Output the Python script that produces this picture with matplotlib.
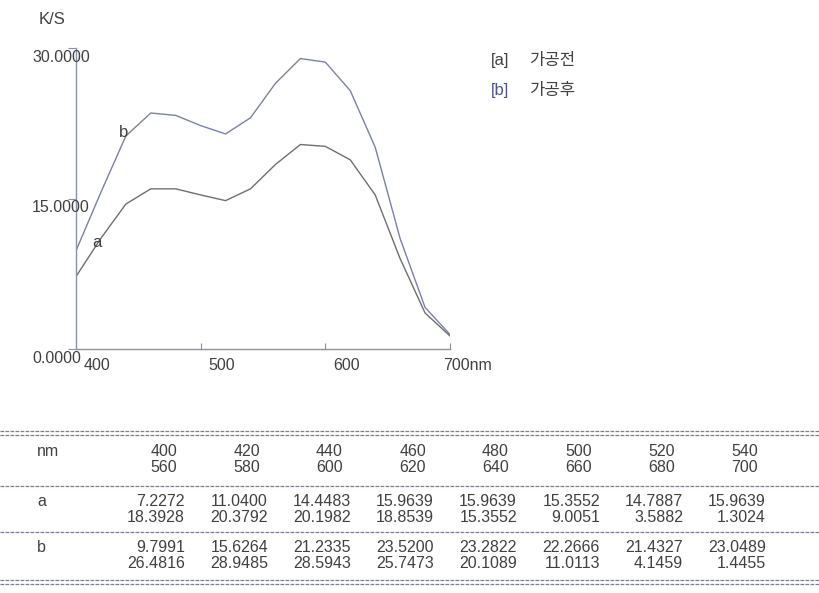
import matplotlib
matplotlib.use('Agg')
import matplotlib.pyplot as plt
from matplotlib.lines import Line2D

wavelengths = [400, 420, 440, 460, 480, 500, 520, 540,
               560, 580, 600, 620, 640, 660, 680, 700]
ks_a = [7.2272, 11.0400, 14.4483, 15.9639, 15.9639, 15.3552, 14.7887, 15.9639,
        18.3928, 20.3792, 20.1982, 18.8539, 15.3552, 9.0051, 3.5882, 1.3024]
ks_b = [9.7991, 15.6264, 21.2335, 23.5200, 23.2822, 22.2666, 21.4327, 23.0489,
        26.4816, 28.9485, 28.5943, 25.7473, 20.1089, 11.0113, 4.1459, 1.4455]
y_ticks = [0, 15, 30]
x_ticks = [400, 500, 600, 700]
x_tick_labels = ['400', '500', '600', '700nm']
legend_labels = ['[a]  가공전', '[b]  가공후']

W, H = 820, 593
NUM_FONT = 'Liberation Sans'
NUM_SIZE = 11.5
KR_FONT = ['Noto Sans CJK KR', 'DejaVu Sans']

TXT = '#404040'
AXC = '#8a90a8'
COL_A = '#6e6e72'
COL_B = '#7a80aa'


def px(x, y):
    return x / W, 1 - y / H


fig = plt.figure(figsize=(W / 100, H / 100), dpi=100)
fig.patch.set_facecolor('white')

ax = fig.add_axes([76 / W, 1 - 349 / H, 374 / W, 301 / H])
ax.plot(wavelengths, ks_b, color=COL_B, lw=1.0)
ax.plot(wavelengths, ks_a, color=COL_A, lw=1.0)
ax.set_xlim(400, 700)
ax.set_ylim(0, 30)
for s in ['top', 'right']:
    ax.spines[s].set_visible(False)
for s in ['left', 'bottom']:
    ax.spines[s].set_color(AXC)
    ax.spines[s].set_linewidth(1.0)
ax.set_yticks(y_ticks)
ax.set_xticks(x_ticks[1:])
ax.tick_params(axis='y', direction='out', length=6, color=AXC, labelleft=False)
ax.tick_params(axis='x', direction='in', length=4.5, color=AXC, labelbottom=False)

# tick labels, offset like the original printout (y labels are left aligned)
for v in y_ticks:
    ax.annotate(f'{v:.4f}', xy=(0, v), xycoords=('axes fraction', 'data'),
                xytext=(-31.5, -6.5), textcoords='offset points', ha='left', va='center',
                fontsize=11.5, family=NUM_FONT, color=TXT, annotation_clip=False)
for v, lab in zip(x_ticks, x_tick_labels):
    if lab.endswith('nm'):
        ax.annotate(lab, xy=(v, 0), xycoords=('data', 'axes fraction'),
                    xytext=(-5, -12), textcoords='offset points', ha='left', va='center',
                    fontsize=11.5, family=NUM_FONT, color=TXT, annotation_clip=False)
    else:
        ax.annotate(lab, xy=(v, 0), xycoords=('data', 'axes fraction'),
                    xytext=(15, -12), textcoords='offset points', ha='center', va='center',
                    fontsize=11.5, family=NUM_FONT, color=TXT, annotation_clip=False)

# curve labels
ax.annotate('b', xy=(wavelengths[1], ks_b[1]), xytext=(16, 43), textcoords='offset points',
            ha='center', va='center', fontsize=12, family=NUM_FONT, color=TXT)
ax.annotate('a', xy=(wavelengths[1], ks_a[1]), xytext=(-3, -3), textcoords='offset points',
            ha='center', va='center', fontsize=12, family=NUM_FONT, color=TXT)

fig.text(*px(39, 19), 'K/S', fontsize=12, family=NUM_FONT, color=TXT, va='center')

# legend
for i, lab in enumerate(legend_labels):
    tag, word = lab.split('  ')
    c = TXT if i == 0 else '#4a5288'
    fig.text(*px(491, 60 + 30 * i), tag, fontsize=12, family=NUM_FONT, color=c, va='center')
    fig.text(*px(529, 60 + 30 * i), word, fontsize=12, family=KR_FONT, color=TXT, va='center')

# table
LINE_C = '#7a7f95'


def hline(y, lw=0.9):
    fig.add_artist(Line2D([0, 1], [1 - y / H, 1 - y / H], color=LINE_C, lw=lw,
                          ls=(0, (3, 1)), transform=fig.transFigure))


hline(431)
hline(435)
hline(486)
hline(532)
hline(580)
hline(584)

half = len(wavelengths) // 2
rows = [('nm', [str(w) for w in wavelengths], 177, 451),
        ('a', [f'{v:.4f}' for v in ks_a], 185, 501),
        ('b', [f'{v:.4f}' for v in ks_b], 185, 547)]
for name, vals, x0, y0 in rows:
    fig.text(*px(37, y0), name, fontsize=NUM_SIZE, family=NUM_FONT, color=TXT, va='center')
    for j in range(half):
        xr = x0 + 83 * j
        fig.text(*px(xr, y0), vals[j], fontsize=NUM_SIZE, family=NUM_FONT, color=TXT,
                 ha='right', va='center')
        fig.text(*px(xr, y0 + 16), vals[j + half], fontsize=NUM_SIZE, family=NUM_FONT,
                 color=TXT, ha='right', va='center')

fig.savefig('out.png', dpi=100)
